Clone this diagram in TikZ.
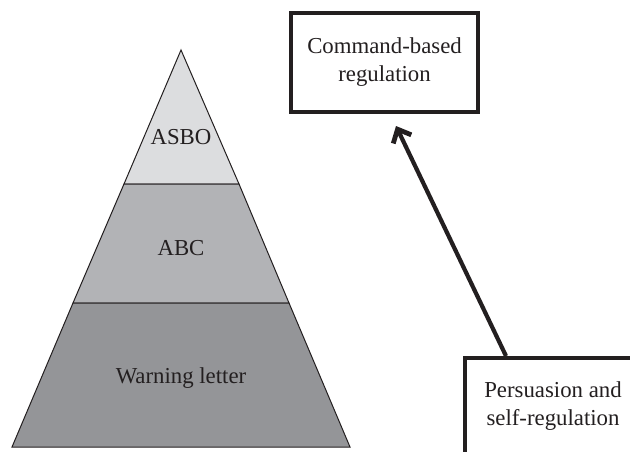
\documentclass[tikz,border=0pt]{standalone}
\usepackage{fontspec}
\setmainfont{Liberation Serif}
\usetikzlibrary{arrows.meta,positioning}
\definecolor{tiertop}{HTML}{DCDDDF}
\definecolor{tiermid}{HTML}{B2B3B6}
\definecolor{tierbase}{HTML}{949598}
\definecolor{inkgray}{HTML}{231F20}

\begin{document}
\begin{tikzpicture}[x=0.5pt, y=-0.5pt,
    every node/.style={font=\fontsize{11.4}{14}\selectfont, text=inkgray, align=center},
    tier/.style={draw=inkgray, line width=0.5pt},
    regbox/.style={draw=inkgray, line width=2pt, fill=white, inner sep=0pt},
    push/.style={-{Straight Barb[length=5.5pt, width=10pt, line width=2.4pt]}, line width=2.1pt, draw=inkgray}
  ]
    \useasboundingbox (0,0) rectangle (630,451);
    \clip (0,0) rectangle (630,451);

    % pyramid
    \coordinate (apex) at (181,50);
    \coordinate (tl) at (124,184);
    \coordinate (tr) at (239,184);
    \coordinate (ml) at (73,303);
    \coordinate (mr) at (289,303);
    \coordinate (bl) at (12,447);
    \coordinate (br) at (350,447);
    \filldraw[tier, fill=tiertop] (apex) -- (tr) -- (tl) -- cycle;
    \filldraw[tier, fill=tiermid] (tl) -- (tr) -- (mr) -- (ml) -- cycle;
    \filldraw[tier, fill=tierbase] (ml) -- (mr) -- (br) -- (bl) -- cycle;

    \node (asbo) at (181,137) {ASBO};
    \node (abc) at (181,248) {ABC};
    \node (warn) at (181,378) {Warning letter};

    % regulation boxes
    \node[regbox, minimum width=93.5pt, minimum height=49.5pt] (command) at (384.5,62.5) {Command-based\\regulation};
    \node[regbox, minimum width=88pt, minimum height=48.5pt] (persuade) at (553,406.5) {Persuasion and\\self-regulation};

    \coordinate (pushfrom) at ([xshift=21.5pt]persuade.north west);
    \coordinate (pushto) at (396,126);
    \draw[push] (pushfrom) -- (pushto);
  \end{tikzpicture}
\end{document}
